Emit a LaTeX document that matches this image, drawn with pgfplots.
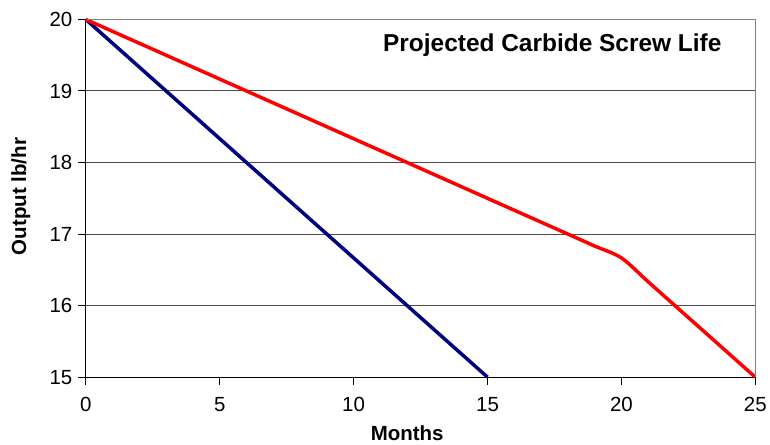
\documentclass[border=0pt]{standalone}
\usepackage{pgfplots}
\pgfplotsset{compat=1.18}
\usepackage{fontspec}
\setmainfont{Liberation Sans}
\definecolor{navyline}{RGB}{0,0,128}
\definecolor{gridgray}{RGB}{128,128,128}
\begin{document}
\begin{tikzpicture}[x=1pt,y=1pt]
\begin{axis}[
  at={(0,0)}, anchor=south west,
  scale only axis,
  width=671pt, height=358.5pt,
  xmin=0, xmax=25, ymin=15, ymax=20,
  xtick={0,5,10,15,20,25},
  ytick={15,16,17,18,19,20},
  tick align=outside,
  major tick length=8pt,
  ymajorgrids,
  major grid style={draw=black!70, line width=1pt},
  axis x line*=bottom, axis y line*=left,
  axis line style={line width=1.2pt},
  tick style={black, line width=1pt},
  ticklabel style={font=\fontsize{20.5}{22}\selectfont},
  xticklabel style={yshift=-9pt},
  yticklabel style={xshift=-2pt},
  /pgf/number format/assume math mode=true,
  xlabel={\bfseries Months},
  ylabel={\bfseries Output lb/hr},
  xlabel style={font=\fontsize{20.5}{22}\selectfont, at={(axis description cs:0.48,-0.156)}, anchor=center},
  ylabel style={font=\fontsize{20.5}{22}\selectfont, at={(axis description cs:-0.0969,0.505)}, anchor=center},
  clip=false,
]
\addplot[navyline, line width=3.5pt] coordinates {(0,20) (15,15)};
\addplot[red, line width=3.5pt, smooth, tension=0.5] coordinates {
  (0,20) (6,19) (12,18) (18,17) (19,16.833) (20,16.667) (21,16.333) (22,16) (25,15)};
\node[font=\bfseries\fontsize{24.5}{26}\selectfont, anchor=base] at (axis cs:17.42,19.547) {Projected Carbide Screw Life};
\draw[gridgray, line width=1.5pt] (axis cs:0,20) -- (axis cs:25,20) -- (axis cs:25,15);
\end{axis}
\path (-86,-68) rectangle ++(770,446);
\end{tikzpicture}
\end{document}
